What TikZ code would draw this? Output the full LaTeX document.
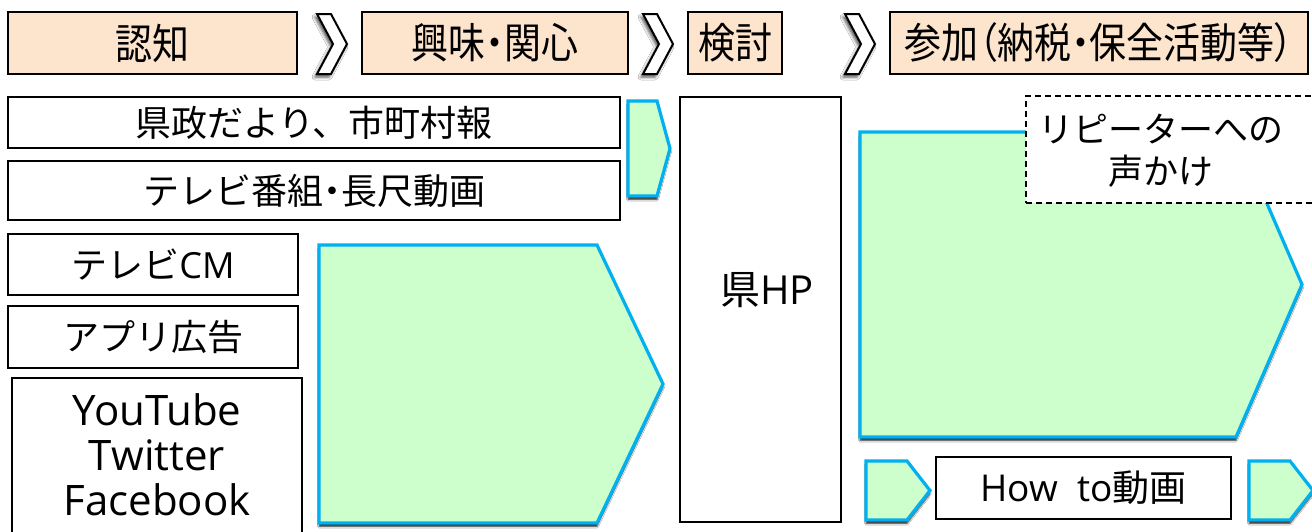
\documentclass[tikz,border=0pt]{standalone}
\usepackage{fontspec}
\setmainfont{Noto Sans CJK JP}
\newfontfamily\pfont[RawFeature=+palt]{Noto Sans CJK JP}
\newfontfamily\latf{Open Sans}
\newcommand{\pd}[1]{{\pfont #1}}
\usetikzlibrary{shadows.blur}
\definecolor{peach}{RGB}{252,228,205}
\definecolor{lgreen}{RGB}{204,255,204}
\definecolor{cyanb}{RGB}{0,176,240}
\begin{document}
\begin{tikzpicture}[x=1pt,y=-1pt,
  hdr/.style={draw=black, line width=1.2pt, fill=peach, inner sep=0pt, font=\fontsize{42}{46}\selectfont},
  box/.style={draw=black, line width=1.2pt, fill=white, inner sep=0pt, font=\fontsize{36}{40}\selectfont},
  garrow/.style={draw=cyanb, line width=3.2pt, fill=lgreen, line join=miter,
    blur shadow={shadow xshift=0pt, shadow yshift=-3.5pt, shadow blur radius=1.5pt, shadow opacity=85}},
  chev/.style={draw=black, line width=2pt, fill=white, line join=miter,
    blur shadow={shadow xshift=-2pt, shadow yshift=-3pt, shadow blur radius=3pt, shadow opacity=70}}]
\useasboundingbox (0,0) rectangle (1312,531);
\clip (0,0) rectangle (1312,531);
\fill[white] (0,0) rectangle (1312,531);

% header row
\node[hdr, minimum width=289pt, minimum height=62pt] (h1) at (152.5,43) {\scalebox{0.88}[1]{認知}};
\node[hdr, minimum width=266pt, minimum height=62pt] (h2) at (495,43) {\scalebox{0.88}[1]{興味\pd{・}関心}};
\node[hdr, minimum width=94pt, minimum height=62pt] (h3) at (735,43) {\scalebox{0.88}[1]{検討}};
\node[hdr, minimum width=418pt, minimum height=62pt] (h4) at (1099,43) {\scalebox{0.88}[1]{参加\pd{（}納税\pd{・}保全活動等\pd{）}}};

% chevrons
\foreach \L in {317, 643, 845}{
  \draw[chev] (\L,14) -- ++(14,0) -- ++(16,30) -- ++(-16,30) -- ++(-14,0) -- ++(16,-30) -- cycle;
}

% left column
\node[box, minimum width=612pt, minimum height=51pt] (b1) at (314,122.5) {県政だより、市町村報};
\node[box, minimum width=612pt, minimum height=59pt] (b2) at (314,190.5) {テレビ番組\pd{・}長尺動画};
\node[box, minimum width=290pt, minimum height=61pt] (b3) at (153,264.5) {テレビ{\latf CM}};
\node[box, minimum width=290pt, minimum height=62pt] (b4) at (153,337) {アプリ広告};
\node[box, minimum width=290pt, minimum height=160pt] (b5) at (157,458) {};
\node[font=\fontsize{42}{45}\selectfont\latf, align=center, inner sep=0pt] (b5t) at (157,455) {YouTube\\Twitter\\Facebook};

% green arrows
\draw[garrow] (628,101) -- (657,101) -- (670,148.5) -- (657,196) -- (628,196) -- cycle;
\draw[garrow] (319,245) -- (597,245) -- (663,384) -- (597,523) -- (319,523) -- cycle;
\draw[garrow] (860,132) -- (1236,132) -- (1302,284.5) -- (1236,437) -- (860,437) -- cycle;
\draw[garrow] (866,461) -- (907,461) -- (930,490.5) -- (907,520) -- (866,520) -- cycle;
\draw[garrow] (1249,461) -- (1290,461) -- (1313,490.5) -- (1290,520) -- (1249,520) -- cycle;

% HP box
\node[box, minimum width=161pt, minimum height=425pt] (hp) at (760.5,309.5) {};
\node[font=\fontsize{40}{40}\selectfont, inner sep=0pt] (hpt) at (767,290) {県{\latf HP}};

% repeater dashed box
\node[draw=black, dashed, dash pattern=on 6pt off 4pt, line width=1.2pt, fill=white,
  minimum width=294pt, minimum height=107pt, inner sep=0pt] (rp) at (1173,149.5) {};
\node[font=\fontsize{35}{42}\selectfont, align=center, inner sep=0pt] (rpt) at (1161,151) {リピーターへの\\声かけ};

% How to
\node[box, minimum width=295pt, minimum height=62pt, font=\fontsize{37}{40}\selectfont] (how) at (1083.5,488) {{\latf How\ \ to}動画};
\end{tikzpicture}
\end{document}
